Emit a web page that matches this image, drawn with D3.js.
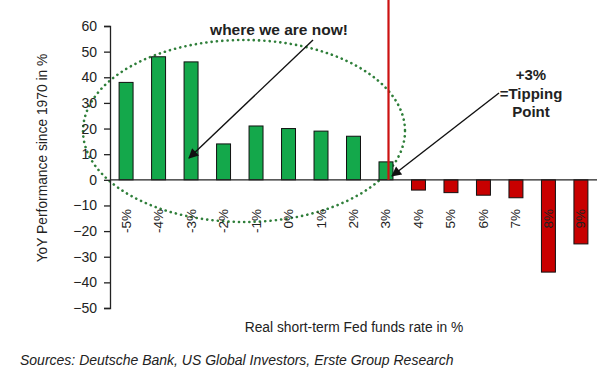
<!DOCTYPE html>
<html><head><meta charset="utf-8">
<script src="https://cdn.jsdelivr.net/npm/d3@7"></script>
<style>body{margin:0;background:#fff}svg{display:block}text{font-family:"Liberation Sans",Arial,sans-serif}</style>
</head><body>
<svg id="c" width="609" height="380"></svg>
<script>
const categories = ["-5%","-4%","-3%","-2%","-1%","0%","1%","2%","3%","4%","5%","6%","7%","8%","9%"];
const values = [38,48,46,14,21,20,19,17,7,-4,-5,-6,-7,-36,-25];
const yTicks = [60,50,40,30,20,10,0,-10,-20,-30,-40,-50];

const svg = d3.select("#c");
const x = d3.scaleBand().domain(categories).range([110,597]).paddingInner(0.57).paddingOuter(0.28);
const y = d3.scaleLinear().domain([-50,60]).range([308,26]);

// ellipse (behind)
svg.append("ellipse").attr("cx",244).attr("cy",131).attr("rx",161).attr("ry",91)
  .attr("fill","none").attr("stroke","#2f7f3a").attr("stroke-width",2.6)
  .attr("stroke-dasharray","0.1,5.2").attr("stroke-linecap","round");

// bars
svg.append("g").selectAll("rect").data(values).join("rect")
  .attr("x",(d,i)=>x(categories[i]))
  .attr("width",x.bandwidth())
  .attr("y",d=>y(Math.max(0,d)))
  .attr("height",d=>Math.abs(y(d)-y(0)))
  .attr("fill",d=>d>=0?"#14a84b":"#c80000")
  .attr("stroke","#111").attr("stroke-width",1);

// y axis
const ya = svg.append("g").attr("transform","translate(110,0)")
  .call(d3.axisLeft(y).tickValues(yTicks).tickSize(6).tickPadding(7).tickFormat(d3.format("d")));
ya.select(".domain").attr("stroke","#222").attr("stroke-width",1.3);
ya.selectAll(".tick line").attr("stroke","#222").attr("stroke-width",1.3);
ya.selectAll(".tick text").attr("font-size",14).attr("fill","#222").attr("font-family","Liberation Sans, Arial, sans-serif");

// x axis line at zero
svg.append("line").attr("x1",110).attr("x2",597).attr("y1",y(0)).attr("y2",y(0))
  .attr("stroke","#222").attr("stroke-width",1.3);

// x tick labels (rotated)
svg.append("g").selectAll("text").data(categories).join("text")
  .attr("transform",d=>`translate(${x(d)+x.bandwidth()/2+4.5},209) rotate(-90)`)
  .attr("text-anchor","end").attr("font-size",13.5).attr("fill","#222").text(d=>d);

// red vertical line
svg.append("line").attr("x1",388.5).attr("x2",388.5).attr("y1",0).attr("y2",y(0))
  .attr("stroke","#cc1111").attr("stroke-width",2.2);

// arrows
const defs = svg.append("defs");
defs.append("marker").attr("id","ah").attr("viewBox","0 0 10 10").attr("refX",9).attr("refY",5)
  .attr("markerWidth",12).attr("markerHeight",10).attr("markerUnits","userSpaceOnUse").attr("orient","auto")
  .append("path").attr("d","M0,0 L10,5 L0,10 z").attr("fill","#111");
svg.append("line").attr("x1",313).attr("y1",40).attr("x2",189).attr("y2",158)
  .attr("stroke","#111").attr("stroke-width",1.4).attr("marker-end","url(#ah)");
svg.append("line").attr("x1",499).attr("y1",93).attr("x2",392).attr("y2",176)
  .attr("stroke","#111").attr("stroke-width",1.4).attr("marker-end","url(#ah)");

// annotations
svg.append("text").attr("x",279).attr("y",35).attr("text-anchor","middle")
  .attr("font-size",15.5).attr("font-weight","bold").attr("fill","#222").text("where we are now!");
const tp = svg.append("text").attr("text-anchor","middle").attr("font-size",15).attr("font-weight","bold").attr("fill","#222");
[["+3%",80],["=Tipping",99],["Point",117]].forEach(([t,yy])=>tp.append("tspan").attr("x",531).attr("y",yy).text(t));

// axis titles
svg.append("text").attr("transform","translate(47,158) rotate(-90)").attr("text-anchor","middle")
  .attr("font-size",13.8).attr("fill","#222").text("YoY Performance since 1970 in %");
svg.append("text").attr("x",354).attr("y",332).attr("text-anchor","middle")
  .attr("font-size",13.8).attr("fill","#222").text("Real short-term Fed funds rate in %");
svg.append("text").attr("x",20).attr("y",365).attr("font-size",14).attr("font-style","italic")
  .attr("fill","#222").text("Sources: Deutsche Bank, US Global Investors, Erste Group Research");
</script>
</body></html>
